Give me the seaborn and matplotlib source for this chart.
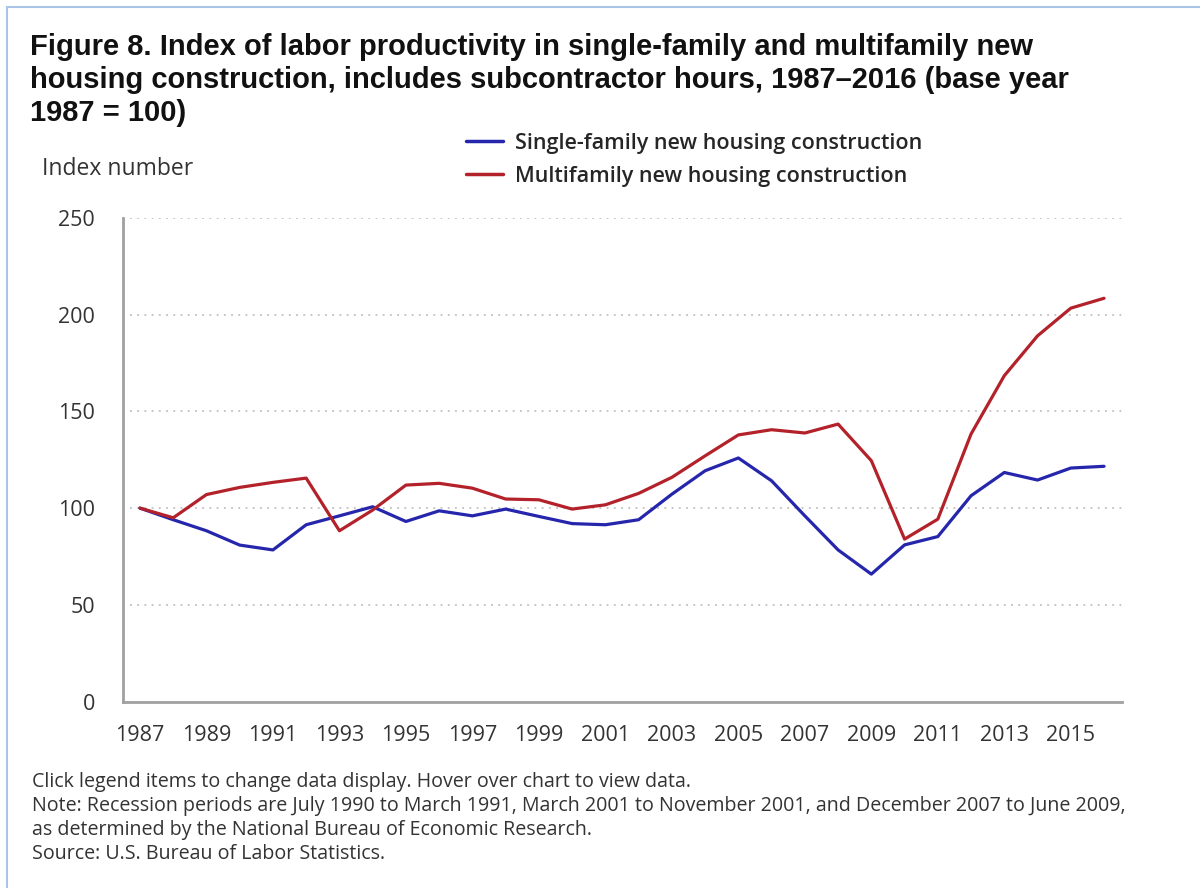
import numpy as np
import pandas as pd
import matplotlib
matplotlib.use("Agg")
from matplotlib import pyplot as plt
from matplotlib.lines import Line2D
import seaborn as sns

years = list(range(1987, 2017))
single_family = [100, 94, 88.3, 80.9, 78.4, 91.4, 96, 100.7, 93.1, 98.6,
                 96, 99.5, 95.7, 92, 91.4, 94, 107.2, 119.3, 125.9, 114.1,
                 96, 78.4, 65.9, 81, 85.3, 106.4, 118.4, 114.5, 120.7, 121.6]
multifamily = [100, 95, 107, 110.7, 113.3, 115.5, 88.3, 99, 111.9, 112.8,
               110.3, 104.7, 104.3, 99.5, 101.7, 107.6, 115.9, 127, 137.8, 140.5,
               138.8, 143.4, 124.5, 84, 94.3, 138.3, 168.4, 189, 203.3, 208.4]
series_names = ["Single-family new housing construction",
                "Multifamily new housing construction"]
colors = ["#2626ad", "#b3222a"]
y_ticks = [0, 50, 100, 150, 200, 250]
x_ticks = list(range(1987, 2017, 2))

df = pd.DataFrame({
    "year": years * 2,
    "value": single_family + multifamily,
    "series": [series_names[0]] * len(years) + [series_names[1]] * len(years),
})

sns.set_style("white")
plt.rcParams["font.family"] = ["Open Sans", "DejaVu Sans"]

fig = plt.figure(figsize=(12, 8.88), dpi=100)
ax = fig.add_axes([0.1025, 0.2098, 0.8325, 0.545])

sns.lineplot(data=df, x="year", y="value", hue="series", palette=colors,
             linewidth=2.3, ax=ax, legend=False)

ax.set_xlim(1986.49, 2016.54)
ax.set_ylim(0, 250)
ax.set_xticks(x_ticks)
ax.set_yticks(y_ticks)
ax.set_xlabel("")
ax.set_ylabel("")
ax.tick_params(axis="both", colors="#ccd6eb", length=14, width=1.2,
               labelcolor="#333333", labelsize=15.5)
ax.tick_params(axis="y", pad=6)
ax.tick_params(axis="x", pad=3)

# dotted horizontal grid
for v in y_ticks[1:]:
    ax.axhline(v, xmin=0.007, xmax=1, color="#c0c0c0", linestyle=(0, (1, 3)),
               linewidth=1.3, zorder=0)

for side in ["top", "right"]:
    ax.spines[side].set_visible(False)
for side in ["left", "bottom"]:
    ax.spines[side].set_color("#a0a0a0")
    ax.spines[side].set_linewidth(2)

# title
fig.text(0.025, 0.963,
         "Figure 8. Index of labor productivity in single-family and multifamily new\n"
         "housing construction, includes subcontractor hours, 1987\u20132016 (base year\n"
         "1987 = 100)",
         ha="left", va="top", fontsize=21, fontweight="bold",
         family=["Liberation Sans", "DejaVu Sans"],
         linespacing=1.22, color="#111111")

fig.text(0.035, 0.81, "Index number", fontsize=16.5, color="#333333", va="center")

handles = [Line2D([], [], color=c, linewidth=2.5) for c in colors]
fig.legend(handles, series_names, loc="center left",
           bbox_to_anchor=(0.372, 0.82), frameon=False,
           handlelength=1.75, handletextpad=0.55, labelspacing=0.55,
           prop={"weight": "semibold", "size": 15.5})

footer = ("Click legend items to change data display. Hover over chart to view data.\n"
          "Note: Recession periods are July 1990 to March 1991, March 2001 to November 2001, "
          "and December 2007 to June 2009,\n"
          "as determined by the National Bureau of Economic Research.\n"
          "Source: U.S. Bureau of Labor Statistics.")
fig.text(0.027, 0.131, footer, ha="left", va="top", fontsize=14.1,
         color="#333333", linespacing=1.27)

# outer frame (left and top edges)
fig.add_artist(Line2D([0.006, 0.006], [0, 0.992], transform=fig.transFigure,
                      color="#a9c4e4", linewidth=1.5))
fig.add_artist(Line2D([0.006, 1], [0.992, 0.992], transform=fig.transFigure,
                      color="#a9c4e4", linewidth=1.5))

fig.savefig("out.png", dpi=100)
